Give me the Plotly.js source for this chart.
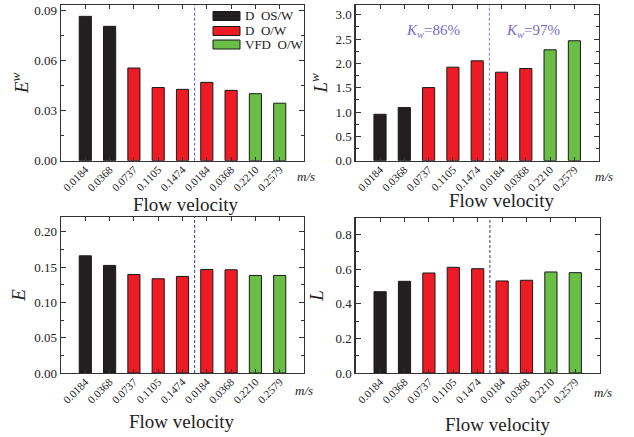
<!DOCTYPE html>
<html><head><meta charset="utf-8">
<script src="https://cdn.plot.ly/plotly-3.0.1.min.js"></script>
<style>html,body{margin:0;padding:0;background:#fff}#chart{width:634px;height:437px}</style>
</head><body><div id="chart"></div>
<script>
// ---- data ----
const categories = ['0.0184','0.0368','0.0737','0.1105','0.1474','0.0184','0.0368','0.2210','0.2579'];
const groups = ['D  OS/W','D  OS/W','D  O/W','D  O/W','D  O/W','D  O/W','D  O/W','VFD  O/W','VFD  O/W'];
const groupNames = ['D  OS/W','D  O/W','VFD  O/W'];
const Ew = [0.0866, 0.0806, 0.0556, 0.0439, 0.0428, 0.0470, 0.0422, 0.0402, 0.0345];
const Lw = [0.954, 1.092, 1.503, 1.922, 2.053, 1.819, 1.895, 2.279, 2.465];
const E  = [0.166, 0.1524, 0.1396, 0.1335, 0.1368, 0.1467, 0.1462, 0.1382, 0.1382];
const L  = [0.470, 0.530, 0.578, 0.611, 0.603, 0.532, 0.536, 0.584, 0.580];
const kwLabels = ['<i>K</i><sub><i>w</i></sub>=86%', '<i>K</i><sub><i>w</i></sub>=97%'];
const xTitle = 'Flow velocity';
const unitLabel = '<i>m/s</i>';
const dividerAfter = 4;

// ---- styling ----
const groupColors = {'D  OS/W':'#231f20','D  O/W':'#ed1c24','VFD  O/W':'#6abd45'};
const W = 634, H = 437;
const px = x => x / W, py = y => 1 - y / H;
const FONT = 'Liberation Serif';
const xIdx = categories.map((c, i) => i);
const barColors = groups.map(g => groupColors[g]);

const panels = [
  {vals: Ew, xa:'x',  ya:'y',  xd:[61,304],    yd:[5,160.7],  yr:[0,0.0934], dt:0.03, mn:0.015, fmt:'.2f', yt:'<i>E</i><sup><i>w</i></sup>', ys:0, divColor:'#5a4fcf', mx:[295,177], fx:[186,204]},
  {vals: Lw, xa:'x2', ya:'y2', xd:[355.7,598.7],yd:[5,160.7], yr:[0,3.2],    dt:0.5,  mn:0.25,  fmt:'.1f', yt:'<i>L</i><sup><i>w</i></sup>', ys:3, divColor:'#8c7fd6', mx:[593,177], fx:[502,201]},
  {vals: E,  xa:'x3', ya:'y3', xd:[61,304],    yd:[217,373],  yr:[0,0.221],  dt:0.05, mn:0.025, fmt:'.2f', yt:'<i>E</i>', ys:3, divColor:'#3a3a8a', mx:[293,390], fx:[182,421]},
  {vals: L,  xa:'x4', ya:'y4', xd:[355.7,599.7],yd:[218,373], yr:[0,0.896],  dt:0.2,  mn:0.1,   fmt:'.1f', yt:'<i>L</i>', ys:7, divColor:'#3a3a8a', mx:[592,392], fx:[498,424]}
];

const data = [];
const layout = {
  width: W, height: H, margin:{l:0,r:0,t:0,b:0},
  paper_bgcolor:'#fff', plot_bgcolor:'#fff',
  showlegend:false, bargap:0.5,
  font:{family:FONT, color:'#222', size:12},
  shapes:[], annotations:[]
};

panels.forEach((p, k) => {
  data.push({
    type:'bar', x:xIdx, y:p.vals, xaxis:p.xa, yaxis:p.ya, width:0.5,
    marker:{color:barColors, line:{color:'#1a1a1a', width:1}},
    hoverinfo:'y'
  });
  const xn = p.xa === 'x' ? 'xaxis' : 'xaxis' + p.xa.slice(1);
  const yn = p.ya === 'y' ? 'yaxis' : 'yaxis' + p.ya.slice(1);
  layout[xn] = {
    domain:[px(p.xd[0]), px(p.xd[1])], anchor:p.ya, range:[-1, 9],
    tickmode:'array', tickvals:xIdx, ticktext:categories, tickangle:-45,
    ticks:'inside', ticklen:4, tickcolor:'#333', showline:true, linecolor:'#333', linewidth:1.3, mirror:'ticks',
    showgrid:false, zeroline:false, tickfont:{family:FONT, size:11, color:'#222'}, fixedrange:true,
    ticklabelstandoff:-3, automargin:false
  };
  layout[yn] = {
    domain:[py(p.yd[1]), py(p.yd[0])], anchor:p.xa, range:p.yr,
    dtick:p.dt, tick0:0, tickformat:p.fmt,
    ticks:'inside', ticklen:5, tickcolor:'#333', showline:true, linecolor:'#333', linewidth:1.3, mirror:'ticks',
    minor:{dtick:p.mn, ticks:'inside', ticklen:3, tickcolor:'#333'},
    showgrid:false, zeroline:false, tickfont:{family:FONT, size:13, color:'#222'}, fixedrange:true, automargin:false,
    title:{text:p.yt, font:{family:FONT, size:19, color:'#222'}, standoff:p.ys}
  };
  layout.shapes.push({type:'line', xref:p.xa, yref:p.ya + ' domain', x0:dividerAfter+0.5, x1:dividerAfter+0.5, y0:0, y1:1,
    line:{color:p.divColor, width:1, dash:'3px,2px'}});
  layout.annotations.push({xref:'paper', yref:'paper', x:px(p.fx[0]), y:py(p.fx[1]), text:xTitle,
    showarrow:false, font:{family:FONT, size:19, color:'#222'}, xanchor:'center', yanchor:'middle'});
  layout.annotations.push({xref:'paper', yref:'paper', x:px(p.mx[0]), y:py(p.mx[1]), text:unitLabel,
    showarrow:false, font:{family:FONT, size:13, color:'#222'}, xanchor:'left', yanchor:'middle'});
});

layout.annotations.push({xref:'paper', yref:'paper', x:px(433), y:py(31), text:kwLabels[0], showarrow:false,
  font:{family:FONT, size:15, color:'#7a6cc4'}, xanchor:'center', yanchor:'middle'});
layout.annotations.push({xref:'paper', yref:'paper', x:px(533), y:py(31), text:kwLabels[1], showarrow:false,
  font:{family:FONT, size:15, color:'#7a6cc4'}, xanchor:'center', yanchor:'middle'});

const legRows = [16, 31, 44.5];
groupNames.forEach((g, i) => {
  const yc = legRows[i];
  layout.shapes.push({type:'rect', xref:'paper', yref:'paper', x0:px(213), x1:px(240), y0:py(yc+4.5), y1:py(yc-4.5),
    fillcolor:groupColors[g], line:{color:'#1a1a1a', width:1}});
  layout.annotations.push({xref:'paper', yref:'paper', x:px(243), y:py(yc), text:g.replace(/ /g,'&nbsp;'), showarrow:false,
    font:{family:FONT, size:13, color:'#222'}, xanchor:'left', yanchor:'middle'});
});

Plotly.newPlot('chart', data, layout, {displayModeBar:false, staticPlot:true});
</script></body></html>
